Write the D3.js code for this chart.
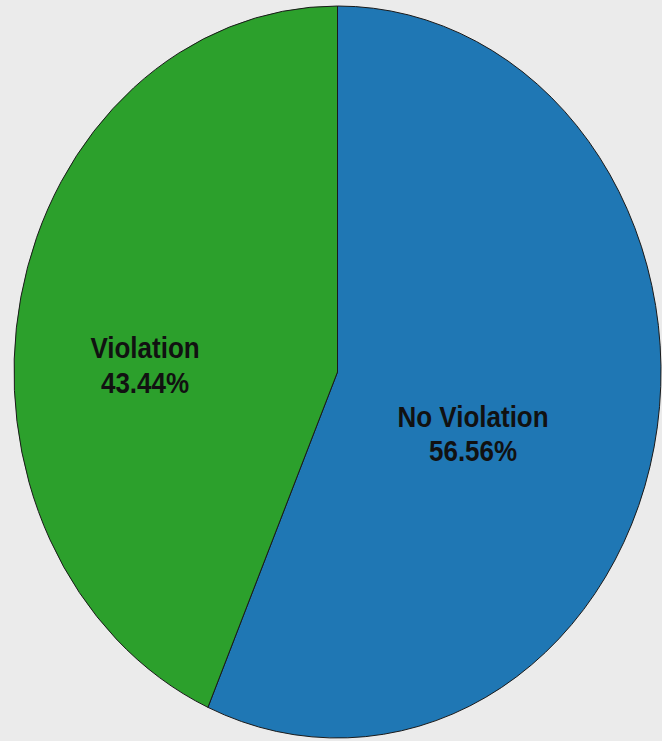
<!DOCTYPE html>
<html>
<head>
<meta charset="utf-8">
<script src="https://cdn.jsdelivr.net/npm/d3@7"></script>
<style>
  html, body { margin: 0; padding: 0; background: #ebebeb; }
  svg { display: block; }
</style>
</head>
<body>
<svg id="chart" width="662" height="741"></svg>
<script>
// ---- data ----
const categories = ["No Violation", "Violation"];
const values = [56.56, 43.44];
const colors = ["#1f77b4", "#2ca02c"];

// ---- layout (not data) ----
const W = 662, H = 741;
const cx = 337.5, cy = 372;
const rx = 323.5, ry = 366;
const labelFrac = [[0.419, 0.150], [-0.595, -0.038]]; // label anchor as fraction of radius
const lineGap = 30.5;

const svg = d3.select("#chart");
svg.append("rect").attr("width", W).attr("height", H).attr("fill", "#ebebeb");

const g = svg.append("g")
  .attr("transform", `translate(${cx},${cy}) scale(1,${ry / rx})`);

const pie = d3.pie().sort(null).value(d => d.v)
  .startAngle(0).endAngle(2 * Math.PI);
const arcs = pie(categories.map((c, i) => ({ c, v: values[i], i })));
const arc = d3.arc().innerRadius(0).outerRadius(rx);

g.selectAll("path.slice")
  .data(arcs)
  .join("path")
  .attr("class", "slice")
  .attr("d", arc)
  .attr("fill", d => colors[d.data.i])
  .attr("stroke", "#1a1a1a")
  .attr("stroke-width", 1)
  .attr("vector-effect", "non-scaling-stroke");

const fmt = v => v.toFixed(2) + "%";
const labels = g.selectAll("text.lbl")
  .data(arcs)
  .join("text")
  .attr("class", "lbl")
  .attr("text-anchor", "middle")
  .attr("font-family", "'Liberation Sans', Arial, sans-serif")
  .attr("font-weight", "bold")
  .attr("font-size", 26)
  .attr("fill", "#111")
  .attr("transform", d => {
    const f = labelFrac[d.data.i];
    return `translate(${f[0] * rx},${f[1] * rx})`;
  });
labels.append("tspan").attr("x", 0).attr("y", 0).text(d => d.data.c);
labels.append("tspan").attr("x", 0).attr("y", lineGap).text(d => fmt(d.data.v));
</script>
</body>
</html>
